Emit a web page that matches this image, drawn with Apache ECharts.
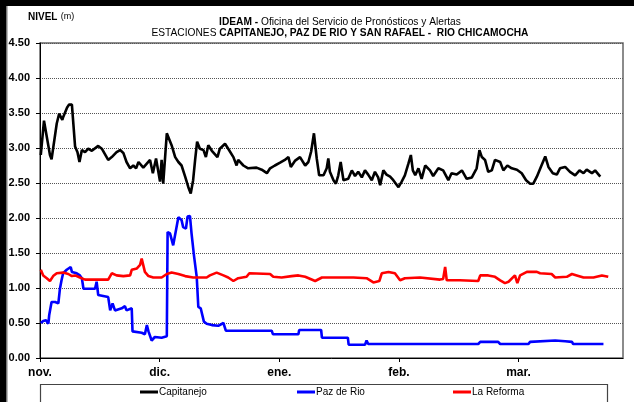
<!DOCTYPE html>
<html>
<head>
<meta charset="utf-8">
<script src="https://cdn.jsdelivr.net/npm/echarts@6/dist/echarts.min.js"></script>
<style>
  html, body { margin: 0; padding: 0; background: #fff; }
  #chart { width: 634px; height: 402px; }
</style>
</head>
<body>
<div id="chart"></div>
<script>
// x = days since 1 nov., y = nivel (m)
const monthStarts = [0, 30, 60, 90, 120];
const monthLabels = ['nov.', 'dic.', 'ene.', 'feb.', 'mar.'];
const yTicks = [0, 0.5, 1, 1.5, 2, 2.5, 3, 3.5, 4, 4.5];

const capitanejo = [
  [0.2, 2.90], [1.0, 3.39], [2.5, 2.90], [2.9, 2.84], [4.2, 3.35], [4.8, 3.49], [5.6, 3.40], [5.8, 3.44],
  [6.8, 3.58], [7.3, 3.62], [8.0, 3.62], [8.4, 3.60], [8.8, 3.02], [9.4, 2.94], [9.9, 2.80], [10.5, 2.97],
  [11.3, 2.94], [12.1, 2.99], [13.0, 2.96], [14.6, 3.03], [15.5, 2.99], [17.1, 2.83], [18.0, 2.87], [19.2, 2.94],
  [20.1, 2.97], [20.9, 2.93], [21.7, 2.80], [22.6, 2.71], [23.4, 2.75], [24.1, 2.71], [24.7, 2.80], [25.9, 2.72],
  [27.6, 2.83], [28.3, 2.64], [29.1, 2.85], [30.1, 2.52], [30.5, 2.83], [30.9, 2.49], [31.8, 3.21], [32.2, 3.21],
  [33.0, 3.04], [33.9, 2.87], [34.7, 2.80], [35.5, 2.75], [36.4, 2.59], [37.2, 2.44], [37.8, 2.35], [38.4, 2.54],
  [38.9, 2.83], [39.4, 3.09], [40.1, 2.99], [41.0, 2.97], [41.6, 2.87], [42.2, 3.04], [43.1, 2.96], [44.5, 2.87],
  [45.1, 2.99], [46.4, 3.06], [47.2, 2.99], [48.5, 2.87], [49.3, 2.75], [49.7, 2.83], [51.0, 2.75], [52.2, 2.71],
  [54.3, 2.72], [55.6, 2.69], [56.9, 2.64], [57.7, 2.71], [58.9, 2.75], [60.2, 2.79], [61.4, 2.83], [62.3, 2.87],
  [62.9, 2.73], [64.0, 2.82], [65.2, 2.87], [66.5, 2.75], [67.3, 2.80], [68.0, 2.95], [68.7, 3.21], [69.4, 2.85],
  [70.0, 2.61], [71.1, 2.61], [71.9, 2.71], [72.3, 2.85], [72.7, 2.66], [73.6, 2.54], [74.2, 2.49], [74.8, 2.61],
  [75.4, 2.80], [76.1, 2.54], [77.3, 2.56], [78.2, 2.68], [79.0, 2.60], [79.8, 2.66], [80.7, 2.58], [81.5, 2.68],
  [82.3, 2.62], [83.2, 2.54], [84.0, 2.66], [84.8, 2.58], [85.3, 2.47], [86.1, 2.68], [86.9, 2.62], [87.8, 2.59],
  [88.6, 2.54], [89.9, 2.44], [90.7, 2.52], [91.5, 2.61], [92.4, 2.78], [93.0, 2.90], [93.5, 2.68], [94.1, 2.61],
  [94.9, 2.71], [95.7, 2.56], [96.6, 2.75], [97.8, 2.68], [98.6, 2.60], [99.9, 2.71], [101.1, 2.68], [102.4, 2.54],
  [103.2, 2.64], [104.5, 2.62], [105.8, 2.68], [107.0, 2.56], [108.3, 2.58], [109.5, 2.71], [110.2, 2.97], [110.8, 2.87],
  [111.6, 2.83], [112.4, 2.66], [113.3, 2.68], [114.1, 2.83], [115.4, 2.80], [116.2, 2.68], [117.2, 2.75], [118.3, 2.71],
  [119.6, 2.69], [120.8, 2.64], [121.9, 2.54], [122.9, 2.49], [123.7, 2.49], [124.6, 2.59], [125.6, 2.73], [126.7, 2.88],
  [127.5, 2.73], [128.6, 2.64], [129.6, 2.62], [130.4, 2.71], [131.7, 2.73], [132.9, 2.66], [134.2, 2.61], [135.3, 2.68],
  [136.3, 2.64], [137.1, 2.69], [138.4, 2.64], [139.2, 2.68], [140.5, 2.59]
];

const pazDeRio = [
  [0.2, 0.50], [0.8, 0.53], [1.5, 0.54], [2.1, 0.49], [2.3, 0.61], [2.9, 0.80], [3.8, 0.80], [4.6, 0.78],
  [5.0, 0.99], [5.4, 1.11], [5.8, 1.21], [6.7, 1.26], [7.7, 1.30], [8.0, 1.23], [9.2, 1.21], [10.0, 1.18],
  [10.5, 1.14], [10.9, 0.99], [13.8, 0.99], [14.2, 1.09], [14.6, 0.90], [17.1, 0.87], [17.6, 0.68], [18.2, 0.78],
  [18.8, 0.68], [20.5, 0.71], [21.3, 0.74], [21.7, 0.68], [23.0, 0.71], [23.2, 0.38], [25.5, 0.36], [26.3, 0.34],
  [26.8, 0.47], [27.2, 0.38], [28.0, 0.25], [28.8, 0.30], [30.5, 0.29], [31.8, 0.31], [32.0, 1.80], [32.6, 1.78],
  [33.4, 1.61], [33.9, 1.61], [34.7, 2.01], [35.5, 1.97], [35.9, 1.87], [36.6, 1.85], [37.0, 2.02], [37.6, 2.03],
  [38.0, 1.78], [38.6, 1.47], [39.3, 1.16], [39.7, 0.73], [40.3, 0.71], [41.1, 0.52], [41.8, 0.49], [43.1, 0.47],
  [44.7, 0.46], [46.0, 0.50], [46.5, 0.50], [46.6, 0.39], [58.1, 0.39], [58.4, 0.34], [64.8, 0.34], [65.0, 0.40],
  [70.5, 0.40], [70.7, 0.29], [77.2, 0.29], [77.4, 0.19], [81.5, 0.19], [81.9, 0.25], [82.3, 0.20], [109.9, 0.20],
  [110.4, 0.23], [114.9, 0.23], [115.4, 0.20], [122.5, 0.20], [122.9, 0.23], [129.2, 0.25], [131.7, 0.24], [133.4, 0.23],
  [133.7, 0.20], [141.3, 0.20]
];

const laReforma = [
  [0.2, 1.26], [0.8, 1.18], [1.7, 1.14], [2.5, 1.10], [3.3, 1.17], [4.2, 1.21], [5.8, 1.22], [7.1, 1.20],
  [8.0, 1.17], [8.8, 1.18], [10.0, 1.15], [11.3, 1.12], [17.1, 1.12], [18.0, 1.21], [19.2, 1.18], [20.9, 1.17],
  [22.6, 1.18], [23.0, 1.26], [24.3, 1.28], [25.1, 1.33], [25.5, 1.42], [25.9, 1.42], [26.3, 1.23], [27.2, 1.17],
  [28.4, 1.15], [30.5, 1.15], [31.8, 1.20], [33.0, 1.22], [34.7, 1.20], [36.4, 1.17], [38.4, 1.15], [41.8, 1.15],
  [42.6, 1.18], [44.3, 1.22], [46.0, 1.18], [47.2, 1.15], [48.5, 1.10], [49.7, 1.14], [51.8, 1.16], [52.5, 1.21],
  [57.7, 1.20], [58.5, 1.16], [60.6, 1.15], [63.1, 1.17], [64.8, 1.18], [66.5, 1.16], [69.0, 1.10], [70.7, 1.15],
  [78.6, 1.15], [81.9, 1.14], [83.6, 1.08], [85.1, 1.10], [85.7, 1.21], [87.4, 1.23], [89.0, 1.21], [90.3, 1.11],
  [91.5, 1.14], [95.3, 1.15], [100.3, 1.12], [101.1, 1.13], [101.6, 1.30], [102.0, 1.11], [105.3, 1.11], [109.9, 1.10],
  [110.4, 1.18], [112.4, 1.18], [114.1, 1.16], [115.4, 1.11], [116.6, 1.07], [117.5, 1.09], [119.1, 1.18], [119.7, 1.07],
  [120.4, 1.18], [122.1, 1.23], [124.6, 1.23], [125.4, 1.21], [128.3, 1.20], [129.2, 1.15], [132.1, 1.16], [133.4, 1.20],
  [134.6, 1.18], [136.3, 1.15], [138.8, 1.15], [140.9, 1.18], [142.5, 1.16]
];

const FONT = '"Liberation Sans Narrow", "Arial Narrow", "Liberation Sans", sans-serif';

const chart = echarts.init(document.getElementById('chart'), null, {renderer: 'canvas'});

const legendBox = (name, left) => ({
  data: [name],
  left: left,
  top: 387,
  padding: 0,
  itemWidth: 18,
  itemHeight: 3,
  icon: 'rect',
  selectedMode: false,
  textStyle: {fontFamily: FONT, fontSize: 10, color: '#000', padding: [0, 0, 0, -4]}
});

const option = {
  animation: false,
  backgroundColor: '#fff',
  grid: {
    left: 40,
    right: 11,
    top: 43,
    bottom: 44,
    show: true,
    borderColor: '#666',
    borderWidth: 1.5,
    backgroundColor: 'transparent'
  },
  graphic: [
    {type: 'rect', shape: {x: 0, y: 0, width: 634, height: 6}, style: {fill: '#000'}, z: 100},
    {type: 'rect', shape: {x: 0, y: 0, width: 6, height: 402}, style: {fill: '#000'}, z: 100},
    {type: 'rect', shape: {x: 6, y: 6, width: 1.5, height: 396}, style: {fill: '#777'}, z: 100},
    {type: 'rect', shape: {x: 40.5, y: 384.5, width: 567, height: 30}, style: {fill: '#fff', stroke: '#444', lineWidth: 1.2}, z: 0},
    {
      type: 'text', left: 28, top: 11, z: 100,
      style: {
        text: '{b|NIVEL} {n|(m)}',
        rich: {
          b: {fontFamily: FONT, fontSize: 10, fontWeight: 'bold', fill: '#000'},
          n: {fontFamily: FONT, fontSize: 9, fill: '#000'}
        }
      }
    },
    {
      type: 'text', x: 340, y: 17, z: 100,
      style: {
        text: '{b|IDEAM - }{n|Oficina del Servicio de Pronósticos y Alertas}\n{n|ESTACIONES }{b|CAPITANEJO, PAZ DE RIO Y SAN RAFAEL -  RIO CHICAMOCHA}',
        align: 'center',
        verticalAlign: 'top',
        rich: {
          b: {fontFamily: FONT, fontSize: 10.2, fontWeight: 'bold', fill: '#000', lineHeight: 11},
          n: {fontFamily: FONT, fontSize: 10.2, fill: '#000', lineHeight: 11}
        }
      }
    }
  ],
  legend: [
    legendBox('Capitanejo', 140),
    legendBox('Paz de Rio', 297),
    legendBox('La Reforma', 453)
  ],
  xAxis: {
    type: 'value',
    min: 0,
    max: 146.2,
    interval: 30,
    axisLine: {lineStyle: {color: '#000', width: 1}},
    axisTick: {show: true, length: 4, customValues: monthStarts, lineStyle: {color: '#000'}},
    splitLine: {show: false},
    axisLabel: {
      customValues: monthStarts,
      margin: 9,
      fontFamily: FONT,
      fontSize: 12,
      fontWeight: 'bold',
      color: '#000',
      formatter: v => {
        const i = monthStarts.indexOf(Math.round(v));
        return i >= 0 ? monthLabels[i] : '';
      }
    }
  },
  yAxis: {
    type: 'value',
    min: yTicks[0],
    max: yTicks[yTicks.length - 1],
    interval: 0.5,
    axisLine: {show: true, lineStyle: {color: '#000', width: 1}},
    axisTick: {show: true, length: 4, lineStyle: {color: '#000'}},
    splitLine: {show: true, lineStyle: {color: '#555', width: 1, type: [1, 1]}},
    axisLabel: {
      margin: 10,
      fontFamily: FONT,
      fontSize: 11,
      fontWeight: 'bold',
      color: '#000',
      formatter: v => v.toFixed(2)
    }
  },
  series: [
    {
      name: 'Capitanejo', type: 'line', data: capitanejo, showSymbol: false, symbol: 'none',
      lineStyle: {color: '#000', width: 2.6}, itemStyle: {color: '#000'}
    },
    {
      name: 'Paz de Rio', type: 'line', data: pazDeRio, showSymbol: false, symbol: 'none',
      lineStyle: {color: '#0000ff', width: 2.6}, itemStyle: {color: '#0000ff'}
    },
    {
      name: 'La Reforma', type: 'line', data: laReforma, showSymbol: false, symbol: 'none',
      lineStyle: {color: '#ff0000', width: 2.6}, itemStyle: {color: '#ff0000'}
    }
  ]
};

chart.setOption(option);
</script>
</body>
</html>
